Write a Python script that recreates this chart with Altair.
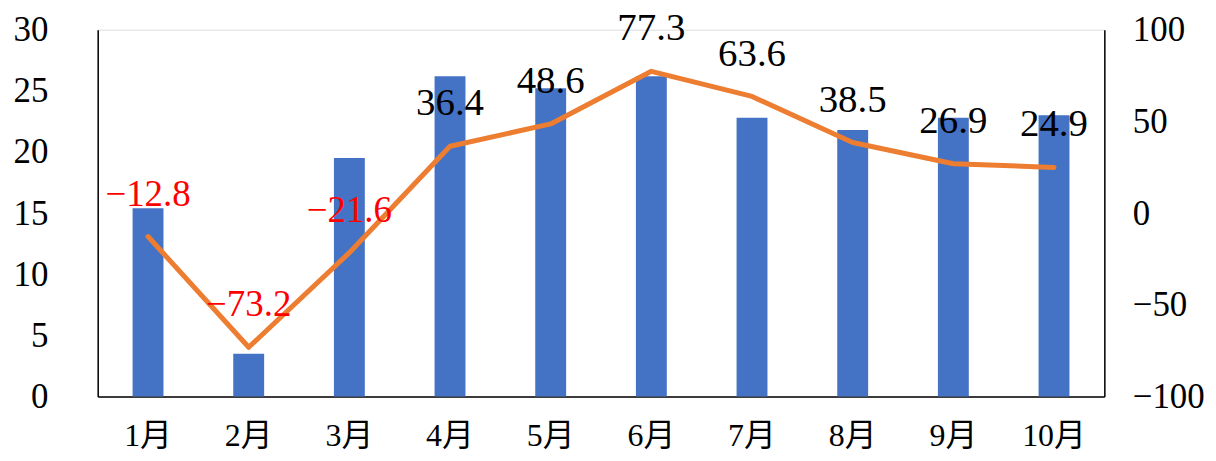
import altair as alt
import pandas as pd

months = ["1月", "2月", "3月", "4月", "5月", "6月", "7月", "8月", "9月", "10月"]
bar_values = [15.4, 3.5, 19.5, 26.2, 25.2, 26.2, 22.8, 21.8, 22.8, 23.0]
growth = [-12.8, -73.2, -21.6, 36.4, 48.6, 77.3, 63.6, 38.5, 26.9, 24.9]
left_ticks = [0, 5, 10, 15, 20, 25, 30]
right_ticks = [-100, -50, 0, 50, 100]

df = pd.DataFrame({"month": months, "value": bar_values, "growth": growth})

SERIF = "Liberation Serif"
XFONT = "Liberation Serif, Noto Sans CJK SC"

x_enc = alt.X(
    "month:N",
    sort=months,
    scale=alt.Scale(paddingInner=0.0, paddingOuter=0.0),
    axis=alt.Axis(
        title=None, labelAngle=0, ticks=False, labelFont=XFONT, labelFontSize=32,
        labelColor="black", labelPadding=24, domainColor="black", domainWidth=1.5,
    ),
)

bars = alt.Chart(df).mark_bar(size=31, color="#4472C4").encode(
    x=x_enc,
    y=alt.Y(
        "value:Q",
        scale=alt.Scale(domain=[0, 30], nice=False),
        axis=alt.Axis(
            title=None, values=left_ticks, ticks=False, grid=False, labelFont=SERIF,
            labelFontSize=35, labelColor="black", labelPadding=50,
            domainColor="black", domainWidth=1.5,
        ),
    ),
)

y_right = alt.Y(
    "growth:Q",
    scale=alt.Scale(domain=[-100, 100], nice=False),
    axis=alt.Axis(
        title=None, orient="right", values=right_ticks, ticks=False, grid=False,
        labelFont=SERIF, labelFontSize=35, labelColor="black", labelPadding=28,
        domainColor="black", domainWidth=1.5,
    ),
)

base = alt.Chart(df).encode(x=x_enc, y=y_right)

line = base.mark_line(color="#ED7D31", strokeWidth=5, strokeCap="round", strokeJoin="round")

text_pos = base.transform_filter("datum.growth >= 0").mark_text(
    font=SERIF, fontSize=39, color="black", dy=-43, baseline="middle"
).encode(text=alt.Text("growth:Q", format=".1f"))

text_neg = base.transform_filter("datum.growth < 0").mark_text(
    font=SERIF, fontSize=37, color="#FF0000", dy=-42, baseline="middle"
).encode(text=alt.Text("growth:Q", format=".1f"))

right_layer = alt.layer(line, text_pos, text_neg)

chart = alt.layer(bars, right_layer).resolve_scale(y="independent").properties(
    width=1010,
    height=368,
    autosize=alt.AutoSizeParams(type="none"),
    padding={"left": 90, "top": 21, "right": 104, "bottom": 56},
).configure_view(stroke=None).configure(background="white")

chart.save("out.html", embed_options={"renderer": "svg", "actions": False})
